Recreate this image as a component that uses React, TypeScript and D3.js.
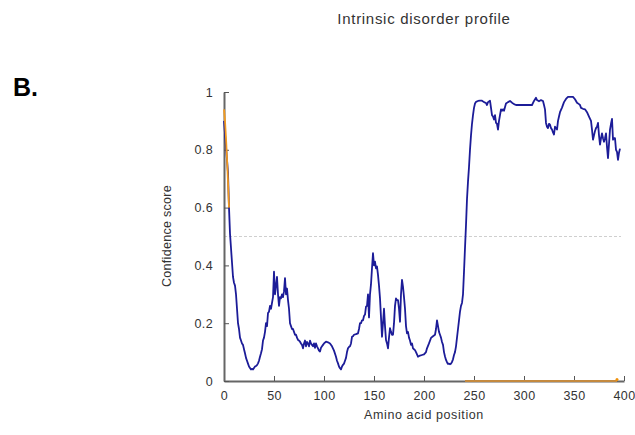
import React, { useRef, useEffect } from 'react';
import * as d3 from 'd3';

// disorder score per residue position
const disorderProfile: [number, number][] = [
  [0, 0.9], [2, 0.81], [4, 0.72], [5, 0.6], [6, 0.51], [7, 0.46], [8, 0.41], [9, 0.36], [10, 0.34],
  [11, 0.33], [12, 0.3], [13, 0.25], [14, 0.2], [15, 0.18], [16, 0.15], [17, 0.14], [18, 0.13],
  [19, 0.125], [20, 0.11], [21, 0.096], [22, 0.08], [23, 0.07], [24, 0.06], [25, 0.05], [26, 0.045],
  [27, 0.04], [28, 0.042], [29, 0.04], [30, 0.045], [31, 0.05], [32, 0.052], [33, 0.055], [34, 0.061],
  [35, 0.07], [36, 0.084], [37, 0.096], [38, 0.11], [39, 0.14], [40, 0.15], [41, 0.17], [42, 0.2],
  [43, 0.19], [44, 0.235], [45, 0.24], [46, 0.26], [47, 0.25], [48, 0.27], [49, 0.29], [50, 0.378],
  [51, 0.3], [52, 0.33], [53, 0.36], [54, 0.3], [55, 0.26], [56, 0.29], [57, 0.286], [58, 0.3],
  [59, 0.29], [60, 0.31], [61, 0.356], [62, 0.3], [63, 0.32], [64, 0.28], [65, 0.25], [66, 0.2],
  [67, 0.19], [68, 0.18], [69, 0.18], [70, 0.17], [71, 0.16], [72, 0.16], [73, 0.15], [74, 0.142],
  [75, 0.14], [76, 0.136], [77, 0.13], [78, 0.125], [79, 0.113], [80, 0.13], [81, 0.14], [82, 0.12],
  [83, 0.135], [84, 0.13], [85, 0.12], [86, 0.14], [87, 0.13], [88, 0.125], [89, 0.12], [90, 0.13],
  [91, 0.115], [92, 0.13], [93, 0.12], [94, 0.113], [95, 0.105], [96, 0.102], [97, 0.115], [98, 0.12],
  [99, 0.125], [100, 0.13], [102, 0.136], [104, 0.134], [106, 0.13], [108, 0.12], [110, 0.105],
  [112, 0.084], [113, 0.07], [114, 0.061], [115, 0.05], [116, 0.044], [117, 0.04], [118, 0.05],
  [119, 0.056], [120, 0.06], [121, 0.07], [122, 0.08], [123, 0.1], [124, 0.113], [125, 0.118],
  [126, 0.12], [127, 0.13], [128, 0.153], [129, 0.155], [130, 0.16], [132, 0.162], [134, 0.165],
  [135, 0.18], [136, 0.2], [137, 0.2], [138, 0.21], [139, 0.21], [140, 0.225], [141, 0.23],
  [142, 0.257], [143, 0.26], [144, 0.3], [145, 0.22], [146, 0.3], [147, 0.335], [148, 0.39],
  [149, 0.442], [150, 0.4], [151, 0.413], [152, 0.39], [153, 0.396], [154, 0.367], [155, 0.33],
  [156, 0.286], [157, 0.22], [158, 0.153], [159, 0.2], [160, 0.25], [161, 0.19], [162, 0.142],
  [163, 0.13], [164, 0.113], [165, 0.15], [166, 0.183], [167, 0.17], [168, 0.16], [169, 0.16],
  [170, 0.2], [171, 0.26], [172, 0.286], [173, 0.28], [174, 0.28], [175, 0.25], [176, 0.205],
  [177, 0.3], [178, 0.35], [179, 0.326], [180, 0.29], [181, 0.25], [182, 0.19], [183, 0.165],
  [184, 0.17], [185, 0.15], [186, 0.14], [187, 0.125], [188, 0.13], [189, 0.113], [190, 0.11],
  [191, 0.107], [192, 0.1], [194, 0.084], [196, 0.088], [198, 0.09], [200, 0.092], [202, 0.1],
  [203, 0.113], [205, 0.13], [207, 0.149], [209, 0.155], [211, 0.16], [212, 0.18], [213, 0.21],
  [214, 0.19], [215, 0.17], [216, 0.16], [217, 0.15], [218, 0.135], [219, 0.125], [220, 0.1],
  [221, 0.085], [222, 0.073], [223, 0.065], [224, 0.059], [225, 0.06], [226, 0.058], [227, 0.06],
  [228, 0.066], [229, 0.075], [230, 0.09], [231, 0.1], [232, 0.12], [233, 0.15], [234, 0.18],
  [235, 0.21], [236, 0.24], [237, 0.26], [238, 0.27], [239, 0.3], [240, 0.378], [241, 0.46],
  [242, 0.54], [243, 0.63], [244, 0.69], [245, 0.74], [246, 0.8], [247, 0.85], [248, 0.89],
  [249, 0.92], [250, 0.945], [251, 0.96], [252, 0.966], [254, 0.969], [256, 0.97], [258, 0.97],
  [260, 0.965], [262, 0.962], [263, 0.955], [264, 0.965], [266, 0.97], [267, 0.945], [268, 0.92],
  [269, 0.915], [270, 0.905], [271, 0.92], [272, 0.893], [273, 0.89], [274, 0.87], [275, 0.9],
  [276, 0.92], [277, 0.94], [278, 0.935], [279, 0.94], [280, 0.935], [282, 0.96], [284, 0.965],
  [286, 0.969], [288, 0.963], [290, 0.958], [292, 0.955], [296, 0.955], [300, 0.955], [304, 0.955],
  [308, 0.955], [310, 0.969], [312, 0.98], [313, 0.972], [315, 0.968], [317, 0.972], [319, 0.969],
  [320, 0.955], [321, 0.94], [322, 0.893], [323, 0.88], [324, 0.875], [325, 0.89], [326, 0.887],
  [327, 0.875], [328, 0.87], [329, 0.86], [330, 0.853], [331, 0.88], [332, 0.875], [333, 0.87],
  [334, 0.9], [335, 0.915], [336, 0.93], [338, 0.946], [340, 0.965], [342, 0.976], [344, 0.983],
  [346, 0.983], [349, 0.983], [351, 0.975], [353, 0.963], [355, 0.958], [356, 0.955], [357, 0.945],
  [359, 0.942], [361, 0.94], [363, 0.93], [365, 0.915], [367, 0.9], [368, 0.87], [369, 0.835],
  [370, 0.85], [371, 0.865], [372, 0.875], [373, 0.88], [374, 0.893], [375, 0.85], [376, 0.818],
  [377, 0.84], [378, 0.857], [379, 0.84], [380, 0.828], [381, 0.84], [382, 0.857], [383, 0.81],
  [384, 0.771], [385, 0.82], [386, 0.87], [387, 0.89], [388, 0.907], [389, 0.835], [390, 0.84],
  [391, 0.84], [392, 0.8], [393, 0.793], [394, 0.765], [395, 0.79], [396, 0.804],
];

// orange N-terminal segment
const nTermSegment: [number, number][] = [
  [0, 0.94], [1, 0.9], [2, 0.84], [3, 0.77], [4, 0.69], [5, 0.6],
];

// disordered region marked on the x axis
const disorderedRegion = [241, 393];

const xTicks = [0, 50, 100, 150, 200, 250, 300, 350, 400];
const yTicks = [0, 0.2, 0.4, 0.6, 0.8, 1];
const threshold = 0.5;

const FONT = '"Liberation Sans", Arial, sans-serif';

const App = () => {
  const svgRef = useRef<SVGSVGElement>(null);

  useEffect(() => {
    const svg = d3.select(svgRef.current);
    svg.selectAll('*').remove();

    const x = d3.scaleLinear().domain([0, 400]).range([224, 624]);
    const y = d3.scaleLinear().domain([0, 1]).range([381, 92]);

    // title and panel letter
    svg.append('text')
      .attr('x', 424).attr('y', 24)
      .attr('text-anchor', 'middle')
      .style('font-family', FONT).style('font-size', '15px').style('letter-spacing', '0.7px')
      .style('fill', '#333')
      .text('Intrinsic disorder profile');

    svg.append('text')
      .attr('x', 13).attr('y', 96)
      .style('font-family', FONT).style('font-size', '25px').style('font-weight', 'bold').style('fill', '#000')
      .text('B.');

    // threshold
    svg.append('line')
      .attr('x1', x(0)).attr('x2', x(397))
      .attr('y1', y(threshold)).attr('y2', y(threshold))
      .attr('stroke', '#cfcfcf').attr('stroke-width', 1).attr('stroke-dasharray', '3,2');

    // axes
    const xAxis = svg.append('g')
      .attr('transform', `translate(0, ${y(0)})`)
      .call(d3.axisBottom(x).tickValues(xTicks).tickSizeInner(-5).tickSizeOuter(0).tickPadding(10)
        .tickFormat(d3.format('d')));
    const yAxis = svg.append('g')
      .attr('transform', `translate(${x(0)}, 0)`)
      .call(d3.axisLeft(y).tickValues(yTicks).tickSizeInner(-5).tickSizeOuter(0).tickPadding(11)
        .tickFormat((d) => (d === 0 || d === 1 ? String(d) : d3.format('.1f')(d as number))));

    [xAxis, yAxis].forEach((g) => {
      g.select('.domain').attr('stroke', '#666').attr('stroke-width', 2);
      g.selectAll('.tick line').attr('stroke', '#555').attr('stroke-width', 1);
      g.selectAll('.tick text')
        .style('font-family', FONT).style('font-size', '12.5px').style('letter-spacing', '0.4px')
        .style('fill', '#333');
    });

    // disordered region on the axis
    svg.append('line')
      .attr('x1', x(disorderedRegion[0])).attr('x2', x(disorderedRegion[1]))
      .attr('y1', y(0)).attr('y2', y(0))
      .attr('stroke', '#c4893e').attr('stroke-width', 2);
    svg.append('circle')
      .attr('cx', x(disorderedRegion[1])).attr('cy', y(0) - 1.5).attr('r', 1.5)
      .attr('fill', '#f0900a');

    const line = d3.line<[number, number]>()
      .x((d) => x(d[0]))
      .y((d) => y(d[1]));

    svg.append('path')
      .datum(disorderProfile)
      .attr('d', line)
      .attr('fill', 'none').attr('stroke', '#1c1c98').attr('stroke-width', 1.8)
      .attr('stroke-linejoin', 'round');

    svg.append('path')
      .datum(nTermSegment)
      .attr('d', line)
      .attr('fill', 'none').attr('stroke', '#f29a1f').attr('stroke-width', 1.8);

    // axis titles
    svg.append('text')
      .attr('x', 424).attr('y', 419)
      .attr('text-anchor', 'middle')
      .style('font-family', FONT).style('font-size', '12.5px').style('letter-spacing', '0.6px')
      .style('fill', '#333')
      .text('Amino acid position');

    svg.append('text')
      .attr('transform', 'translate(171, 236) rotate(-90)')
      .attr('text-anchor', 'middle')
      .style('font-family', FONT).style('font-size', '12.5px').style('letter-spacing', '0.3px')
      .style('fill', '#333')
      .text('Confidence score');
  }, []);

  return (
    <svg ref={svgRef} width={635} height={435}
      style={{ position: 'absolute', left: 0, top: 0, background: '#fff' }} />
  );
};

export default App;
